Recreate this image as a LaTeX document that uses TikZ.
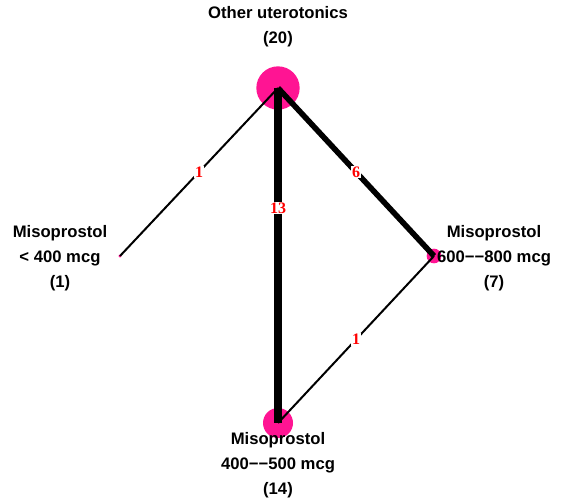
\documentclass[tikz,border=0pt]{standalone}
\usepackage{fontspec}
\setmainfont{Liberation Sans}
\newfontfamily\edgefont{Liberation Serif}
\definecolor{nodepink}{RGB}{255,20,147}
\definecolor{edgered}{RGB}{255,0,0}
\begin{document}
\begin{tikzpicture}[x=0.75pt,y=-0.75pt,
  trt/.style={circle,fill=nodepink,draw=none,inner sep=0pt},
  lbl/.style={align=center,font=\fontsize{12.5}{18.6}\selectfont\bfseries,inner sep=0pt},
  elbl/.style={fill=white,inner sep=0.6pt,text=edgered,font=\edgefont\fontsize{12}{14}\selectfont\bfseries},
  edge/.style={draw=black,line cap=butt}]
\useasboundingbox (0,0) rectangle (561,499);
\fill[white] (0,0) rectangle (561,499);
% treatment nodes
\node[trt,minimum size=32.5pt] (other) at (278,88) {};
\node[trt,minimum size=2.5pt] (low) at (120,256) {};
\node[trt,minimum size=11pt] (high) at (434,256) {};
\node[trt,minimum size=22.5pt] (mid) at (278,423) {};
% connectors
\draw[edge,line width=1.5pt] (other.center) -- node[elbl,pos=0.5] (e1) {1} (low.center);
\draw[edge,line width=6pt] (other.center) -- node[elbl,pos=0.358] (e2) {13} (mid.center);
\draw[edge,line width=4.2pt] (other.center) -- node[elbl,pos=0.5] (e3) {6} (high.center);
\draw[edge,line width=1.5pt] (high.center) -- node[elbl,pos=0.5] (e4) {1} (mid.center);
% labels
\node[lbl] (tOther) at (278,27) {Other uterotonics\\(20)};
\node[lbl] (tLow) at (60,258) {Misoprostol\\< 400 mcg\\(1)};
\node[lbl] (tHigh) at (494,258) {Misoprostol\\600−−800 mcg\\(7)};
\node[lbl] (tMid) at (278,465) {Misoprostol\\400−−500 mcg\\(14)};
\end{tikzpicture}
\end{document}
